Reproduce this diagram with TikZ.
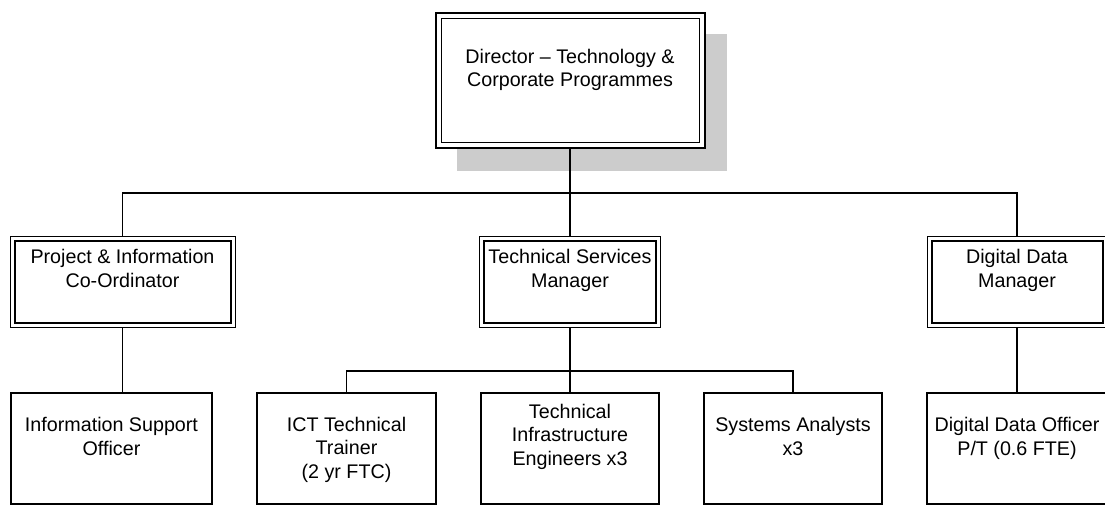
\documentclass[tikz,border=0pt]{standalone}
\usepackage{fontspec}
\setmainfont{Liberation Sans}
\definecolor{shadowgray}{HTML}{CCCCCC}
\begin{document}
\begin{tikzpicture}[x=1pt,y=-1pt,
  box/.style={draw, line width=1.3pt, fill=white, inner sep=0pt, outer sep=0pt},
  thinouter/.style={box, line width=1pt},
  thickouter/.style={box, line width=2pt},
  txt/.style={align=center, anchor=base, inner sep=0pt, font=\fontsize{19.7pt}{23.5pt}\selectfont},
  conn/.style={line width=1.4pt},
  shadowbox/.style={fill=shadowgray}
]
\useasboundingbox (0,0) rectangle (1105,505);
% shadow of director box
\fill[shadowbox] (457,34) rectangle (727,171);
% level 1
\node[thickouter, minimum width=269pt, minimum height=135pt] (dir) at (570,80.5) {};
\draw[line width=1pt] ([shift={(5.5,5.5)}]dir.north west) rectangle ([shift={(-5.5,-5.5)}]dir.south east);
% level 2
\node[thinouter, minimum width=225pt, minimum height=91pt] (pic) at (122.5,281.5) {};
\node[thinouter, minimum width=181pt, minimum height=91pt] (tsm) at (570,281.5) {};
\node[thinouter, minimum width=180pt, minimum height=91pt] (ddm) at (1017,281.5) {};
\foreach \n in {pic,tsm,ddm}{
  \draw[line width=2pt] ([shift={(4.5,4.5)}]\n.north west) rectangle ([shift={(-4.5,-4.5)}]\n.south east);
}
% level 3
\node[box, minimum width=201pt, minimum height=111pt] (iso) at (111.5,448.5) {};
\node[box, minimum width=179pt, minimum height=111pt] (ict) at (346.5,448.5) {};
\node[box, minimum width=178pt, minimum height=111pt] (tie) at (570,448.5) {};
\node[box, minimum width=178pt, minimum height=111pt] (sa) at (793,448.5) {};
\node[box, minimum width=180pt, minimum height=111pt] (ddo) at (1017,448.5) {};
% texts (base anchor = baseline of the last line)
\node[txt] (dirt) at (570,87) {Director \textendash{} Technology \&\\Corporate Programmes};
\node[txt] (pict) at (122.5,287) {Project \& Information\\Co-Ordinator};
\node[txt] (tsmt) at (570,287) {Technical Services\\Manager};
\node[txt] (ddmt) at (1017,287) {Digital Data\\Manager};
\node[txt] (isot) at (111.5,455) {Information Support\\Officer};
\node[txt] (ictt) at (346.5,478) {ICT Technical\\Trainer\\(2 yr FTC)};
\node[txt] (tiet) at (570,465) {Technical\\Infrastructure\\Engineers x3};
\node[txt] (sat) at (793,455) {Systems Analysts\\x3};
\node[txt] (ddot) at (1017,455) {Digital Data Officer\\P/T (0.6 FTE)};
% connectors
\coordinate (bus1) at (570,193);
\coordinate (bus2) at (570,371);
\draw[conn] (dir.south) -- (tsm.north);
\draw[conn] (pic.north) |- (bus1) -| (ddm.north);
\draw[conn] (pic.south) -- (pic.south |- iso.north);
\draw[conn] (tsm.south) -- (tie.north);
\draw[conn] (ict.north) |- (bus2) -| (sa.north);
\draw[conn] (ddm.south) -- (ddo.north);
\end{tikzpicture}
\end{document}
